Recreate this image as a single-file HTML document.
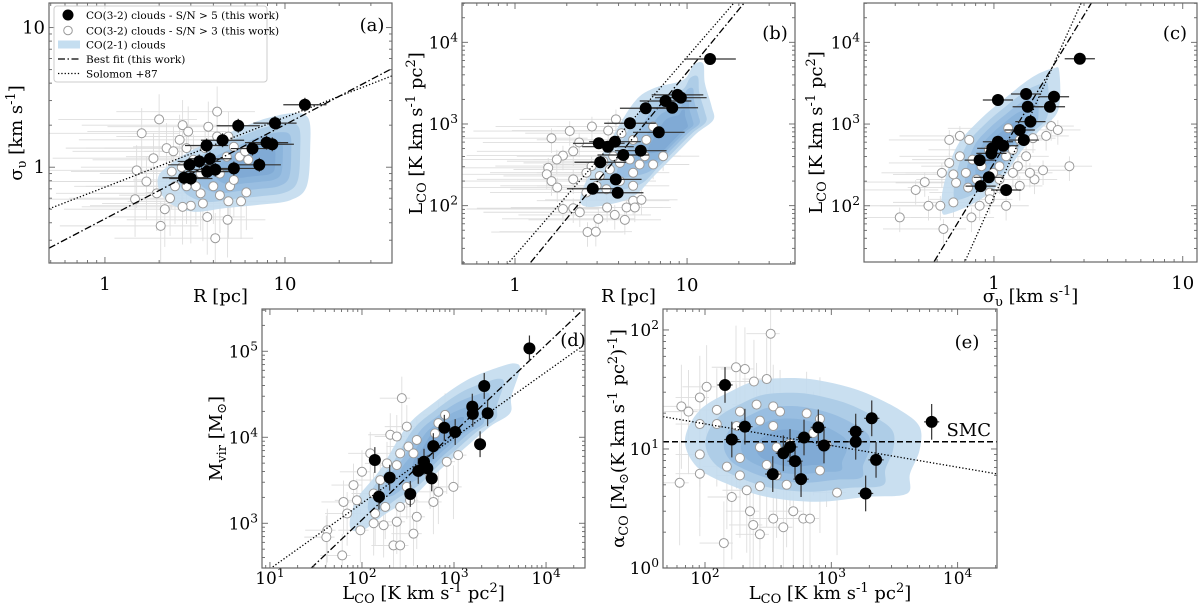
<!DOCTYPE html>
<html><head><meta charset="utf-8">
<style>
body{margin:0;background:#fff}
svg{display:block;font-family:"DejaVu Serif","Liberation Serif",serif}
</style></head>
<body>
<svg id="fig" width="1200" height="613" viewBox="0 0 1200 613" xmlns="http://www.w3.org/2000/svg"></svg>
<script>
// ---------------- DATA ----------------
// Panel (a): sigma_v vs R
const aOpenR=[2.0,1.6,2.7,2.9,2.2,2.6,3.75,4.2,1.86,1.5,1.7,1.94,2.3,1.47,2.15,2.67,2.84,3.0,3.4,3.5,3.7,4.0,4.35,4.85,4.95,5.7,6.1,5.2,5.6,6.25,6.0,4.75,5.2,3.4,3.1,2.4,2.35,2.45,2.7,4.8,4.1,2.04,3.2,4.35,3.6,4.85,2.84,4.2];
const aOpenS=[2.2,1.75,2.0,1.8,1.37,1.57,1.95,2.5,1.16,0.95,0.79,0.65,0.6,0.59,0.5,1.0,0.73,0.53,0.65,0.55,0.44,0.73,0.63,0.57,0.73,0.57,0.66,0.81,1.19,1.13,1.3,1.19,1.4,0.9,1.13,1.3,0.93,0.73,0.52,0.42,0.31,0.38,0.73,0.9,1.37,1.66,1.37,1.66];
const aBlackR=[12.9,5.5,8.8,4.5,3.67,6.6,7.9,8.5,3.83,3.34,2.95,7.2,4.1,3.7,5.2,2.75,3.0];
const aBlackS=[2.8,1.98,2.07,1.56,1.43,1.36,1.5,1.46,1.15,1.10,1.04,1.04,0.96,0.93,0.98,0.84,0.83];
const aContourX=[1.98,2.2,2.84,4.0,5.6,7.9,11.1,13.5,13.8,13.2,10.7,7.3,4.7,3.1,2.3,2.0];
const aContourY=[0.86,1.0,1.26,1.57,1.9,2.24,2.44,2.24,1.4,0.73,0.58,0.54,0.51,0.48,0.55,0.69];
const aPeak=[7.3,1.07];
const aFitBest=[-0.37,0.675];
const aFitSolomon=[-0.143,0.5];

// Panel (b): L_CO vs R
const bOpenR=[3.86,2.8,2.08,1.63,3.48,2.36,2.18,1.9,1.75,1.56,1.53,1.63,1.76,1.9,2.18,2.38,2.64,2.95,3.05,3.43,3.8,4.35,4.86,5.43,4.45,4.97,2.6,2.98,3.4,3.11,3.56,4.07,4.65,4.86,5.3,5.68,6.35,7.26,6.35,5.8,4.16,4.86,3.72,2.79,3.26,2.6,2.18,4.07,4.86];
const bOpenL=[1140,930,820,670,830,594,463,410,367,291,242,200,167,91,93,83,47.5,48,69,95,77,67,115,118,95,95,145,175,159,231,278,334,367,253,319,403,319,403,930,640,771,640,403,305,350,253,210,200,175];
const bBlackR=[13.6,8.8,9.2,7.5,8.2,5.75,4.66,6.85,3.81,3.07,3.47,5.38,4.26,3.13,3.85,2.83,3.95];
const bBlackL=[6250,2270,2100,1910,1580,1560,1020,791,607,580,527,471,417,340,210,161,144];
const bContourX=[2.39,2.61,3.41,4.87,6.37,9.5,10.9,12.4,12.7,13.9,14.2,11.4,8.7,6.37,4.87,3.41,2.61];
const bContourY=[117,206,527,1790,2730,3460,5270,5500,3150,1630,1120,769,438,226,129,102,97];
const bPeak=[8.7,845];
const bFitBest=[1.072,2.56];
const bFitSolomon=[1.39,2.43];

// Panel (c): L_CO vs sigma_v
const cOpenS=[2.51,2.01,2.18,1.89,1.82,1.64,1.55,1.37,1.48,1.26,1.16,1.07,0.99,1.07,0.95,0.95,1.16,0.84,0.76,0.61,0.54,0.45,0.385,0.317,0.52,0.43,0.53,0.58,0.66,0.74,0.66,0.58,0.77,0.71,0.63,0.61,0.86,0.81,0.73,1.34,1.26,1.19,1.61,1.37,0.94];
const cOpenL=[305,946,846,716,272,210,253,175,403,484,403,305,253,210,145,120,100,100,72,110,52,100,156,72,100,195,253,334,403,640,716,640,367,253,191,242,305,210,167,305,253,887,672,640,484];
const cBlackS=[2.85,1.48,2.08,1.05,1.51,1.98,1.56,1.37,1.44,1.05,1.12,0.98,0.97,0.84,0.94,0.85,1.16];
const cBlackL=[6300,2330,2160,1970,1630,1630,1070,845,637,607,543,505,438,362,223,174,156];
const cContourX=[0.53,0.54,0.635,0.84,1.17,1.61,2.06,2.22,2.19,1.75,1.37,1.03,0.78,0.585];
const cContourY=[84.5,171,527,1120,2160,3790,4800,4370,1480,845,438,171,107,80.7];
const cPeak=[1.12,580];
const cFitBest=[2.52,3.80];
const cFitSolomon=[2.106,5.14];

// Panel (d): M_vir vs L_CO
const dOpenL=[271,203,239,307,320,394,260,363,187,239,100,81,88,63,69,42,41,61,134,158,179,134,172,220,260,239,260,333,307,394,363,550,597,622,676,800,834,676,1110,985,123,139,96];
const dOpenM=[28500,10700,10200,13300,7800,9300,6500,6500,4970,4750,3970,2780,1850,1770,1300,830,690,423,2220,3180,1550,1000,949,553,553,1040,1550,1850,2650,1190,757,3480,1770,11100,14600,18200,5200,2320,6200,2650,6500,1300,830];
const dBlackL=[6600,2130,1580,1600,2320,785,1030,1920,596,138,472,513,409,573,200,335,153];
const dBlackM=[108000,39500,22700,18700,19000,12900,11500,8300,7900,5440,5200,4360,4060,3330,3390,2190,2040];
const dContourX=[74,87,157,306,596,1370,3160,4600,5200,4200,4060,2460,1370,705,361,185,103];
const dContourY=[912,1870,4170,13300,24800,46000,66000,72000,61000,29700,19000,13300,7800,4170,2040,1310,836];
const dPeak=[705,9300];
const dFitBest=[1.006,1.017];
const dFitSolomon=[1.707,0.763];

// Panel (e): alpha_CO vs L_CO
const eOpenL=[331,176,207,244,308,103,91,65,74,124,189,256,347,393,91,124,178,272,347,91,91,63,149,189,189,214,163,227,241,272,141,347,417,308,369,272,443,500,600,678,721,638,813,918,813,1110,369,471,272];
const eOpenA=[93,48.6,47,36.9,38.7,33.3,27.1,22.8,20.6,21.3,20.6,23.6,22.8,20.6,16.2,16.2,15.6,17.3,15.6,9.0,6.2,5.2,7.1,8.4,6.0,4.5,3.95,3.0,2.3,1.92,1.62,2.6,2.2,7.35,6.0,4.86,5.0,3.0,2.6,2.6,13.6,19.9,17.9,10.9,6.6,4.3,10.35,11.1,10.35];
const eBlackL=[144,207,163,789,608,2090,6230,1560,1560,875,471,417,516,2260,344,576,1870];
const eBlackA=[34.5,15.4,12.0,15.2,12.5,18.1,16.9,14.0,11.5,10.7,10.4,9.2,7.9,8.1,6.15,5.58,4.23];
const eContourX=[69.5,91,168,272,565,1040,1900,3500,5000,5000,4200,3950,1900,766,308,149,86];
const eContourY=[11.9,21.2,31.3,37.9,39.3,35.6,29.4,21.2,15.4,9.8,6.2,4.2,3.96,3.6,3.96,5.1,7.1];
const ePeak=[443,9.5];
const eFitSolomon=[1.575,-0.182];
const eSMC=[11.5];

// ---------------- RENDER ----------------
const NS='http://www.w3.org/2000/svg';
const svg=document.getElementById('fig');
function mk(tag,attrs,parent){const e=document.createElementNS(NS,tag);for(const k in attrs)e.setAttribute(k,attrs[k]);(parent||svg).appendChild(e);return e;}
const L10=Math.log10;

function rich(el,parts,fs){
  let shift=0;
  parts.forEach(p=>{
    const t=document.createElementNS(NS,'tspan');
    let target=0,size=fs;
    if(p[1]==='sub'){target=4;size=fs*0.72;}
    if(p[1]==='sup'){target=-7;size=fs*0.72;}
    t.setAttribute('dy',String(target-shift));
    shift=target;
    t.setAttribute('font-size',size);
    t.textContent=p[0];
    el.appendChild(t);
  });
}

const LCO=[['L','n'],['CO','sub'],[' [K km s','n'],['-1','sup'],[' pc','n'],['2','sup'],[']','n']];
const SIG=[['σ','n'],['υ','sub'],[' [km s','n'],['-1','sup'],[']','n']];

const panels=[
 {id:'a',box:{l:49,r:392,t:3,b:263},xd:[0.489,39.3],yd:[0.206,15.0],xfmt:'plain',yfmt:'plain',
  open:[aOpenR,aOpenS],black:[aBlackR,aBlackS],cont:[aContourX,aContourY],peak:aPeak,
  best:aFitBest,sol:aFitSolomon,gerr:[0.35,0.18],berr:[0.12,0.05],
  xl:[['R [pc]','n']],yl:SIG,ylx:22,xly:302,tag:'(a)',tagx:372,tagy:31},
 {id:'b',box:{l:462,r:795,t:3,b:264},xd:[0.492,42.4],yd:[19.3,30300],xfmt:'plain',yfmt:'sci',
  open:[bOpenR,bOpenL],black:[bBlackR,bBlackL],cont:[bContourX,bContourY],peak:bPeak,
  best:bFitBest,sol:bFitSolomon,gerr:[0.35,0.12],berr:[0.15,0.05],
  xl:[['R [pc]','n']],yl:LCO,ylx:422,xly:302,tag:'(b)',tagx:775,tagy:39},
 {id:'c',box:{l:864,r:1197,t:3,b:262},xd:[0.205,11.9],yd:[20.5,30300],xfmt:'plain',yfmt:'sci',
  open:[cOpenS,cOpenL],black:[cBlackS,cBlackL],cont:[cContourX,cContourY],peak:cPeak,
  best:cFitBest,sol:cFitSolomon,gerr:[0.2,0.12],berr:[0.08,0.05],
  xl:SIG,yl:LCO,ylx:822,xly:302,tag:'(c)',tagx:1175,tagy:39},
 {id:'d',box:{l:262,r:585,t:309,b:568},xd:[8.2,26500],yd:[302,310000],xfmt:'sci',yfmt:'sci',
  open:[dOpenL,dOpenM],black:[dBlackL,dBlackM],cont:[dContourX,dContourY],peak:dPeak,
  best:dFitBest,sol:dFitSolomon,gerr:[0.15,0.25],berr:[0.05,0.15],
  xl:LCO,yl:[['M','n'],['vir','sub'],[' [M','n'],['⊙','sub'],[']','n']],ylx:222,xly:599,tag:'(d)',tagx:573,tagy:346},
 {id:'e',box:{l:663,r:997,t:309,b:568},xd:[46.5,20500],yd:[1,150],xfmt:'sci',yfmt:'sci',
  open:[eOpenL,eOpenA],black:[eBlackL,eBlackA],cont:[eContourX,eContourY],peak:ePeak,
  best:null,sol:eFitSolomon,smc:eSMC,gerr:[0.12,0.35],berr:[0.06,0.15],
  xl:LCO,yl:[['α','n'],['CO','sub'],[' [M','n'],['⊙','sub'],['(K km s','n'],['-1','sup'],[' pc','n'],['2','sup'],[')','n'],['-1','sup'],[']','n']],ylx:624,xly:599,tag:'(e)',tagx:967,tagy:348}
];

const contourColors=['#c3dcee','#abcbe6','#97bde0','#89b2da','#7ea8d4'];
const contourScale=[1,0.8,0.62,0.45,0.3];

function smoothPath(pts){
  const n=pts.length;let d='M'+pts[0][0].toFixed(1)+','+pts[0][1].toFixed(1);
  for(let i=0;i<n;i++){
    const p0=pts[(i-1+n)%n],p1=pts[i],p2=pts[(i+1)%n],p3=pts[(i+2)%n];
    const c1=[p1[0]+(p2[0]-p0[0])/6,p1[1]+(p2[1]-p0[1])/6];
    const c2=[p2[0]-(p3[0]-p1[0])/6,p2[1]-(p3[1]-p1[1])/6];
    d+='C'+c1[0].toFixed(1)+','+c1[1].toFixed(1)+' '+c2[0].toFixed(1)+','+c2[1].toFixed(1)+' '+p2[0].toFixed(1)+','+p2[1].toFixed(1);
  }
  return d+'Z';
}

function tickLabel(el,v,fmt){
  const e=Math.round(L10(v));
  if(fmt==='plain'){el.textContent=String(Math.round(v));}
  else{rich(el,[['10','n'],[String(e),'sup']],17);}
}

panels.forEach(p=>{
  const B=p.box;
  const sx=v=>B.l+(L10(v)-L10(p.xd[0]))/(L10(p.xd[1])-L10(p.xd[0]))*(B.r-B.l);
  const sy=v=>B.b-(L10(v)-L10(p.yd[0]))/(L10(p.yd[1])-L10(p.yd[0]))*(B.b-B.t);
  const g=mk('g',{});
  
  
  const clip=mk('clipPath',{id:'clip-'+p.id},g);
  
  
  const cr=mk('rect',{x:B.l,y:B.t,width:B.r-B.l,height:B.b-B.t},clip);
  
  
  const pg=mk('g',{'clip-path':'url(#clip-'+p.id+')'},g);
  
  

  const ox=p.open[0],oy=p.open[1];
  for(let i=0;i<ox.length;i++){
    const x=ox[i],y=oy[i];
    const h=mk('line',{x1:sx(x/Math.pow(10,p.gerr[0]*1.6)),x2:sx(x*Math.pow(10,p.gerr[0]*0.6)),y1:sy(y),y2:sy(y),stroke:'#dedede','stroke-width':0.9},pg);
    
    
    const v=mk('line',{x1:sx(x),x2:sx(x),y1:sy(y/Math.pow(10,p.gerr[1]*1.5)),y2:sy(y*Math.pow(10,p.gerr[1])),stroke:'#dedede','stroke-width':0.9},pg);
    
    
  }
  const cx=sx(p.peak[0]),cy=sy(p.peak[1]);
  const basePts=p.cont[0].map((x,i)=>[sx(x),sy(p.cont[1][i])]);
  contourScale.forEach((s,k)=>{
    const pts=basePts.map(q=>[cx+(q[0]-cx)*s,cy+(q[1]-cy)*s]);
    const c=mk('path',{d:smoothPath(pts),fill:contourColors[k],'fill-opacity':0.9},pg);
    
    
  });
  for(let i=0;i<ox.length;i++){
    const m=mk('circle',{cx:sx(ox[i]),cy:sy(oy[i]),r:4.5,fill:'#fff',stroke:'#9a9a9a','stroke-width':1},pg);
    
    
  }
  const lx0=p.xd[0],lx1=p.xd[1];
  if(p.best){
    const ln=mk('line',{x1:sx(lx0),y1:sy(Math.pow(10,p.best[0]+p.best[1]*L10(lx0))),x2:sx(lx1),y2:sy(Math.pow(10,p.best[0]+p.best[1]*L10(lx1))),stroke:'#000','stroke-width':1.3,'stroke-dasharray':'7,2.5,1.5,2.5'},pg);
    
    
  }
  if(p.sol){
    const ln=mk('line',{x1:sx(lx0),y1:sy(Math.pow(10,p.sol[0]+p.sol[1]*L10(lx0))),x2:sx(lx1),y2:sy(Math.pow(10,p.sol[0]+p.sol[1]*L10(lx1))),stroke:'#000','stroke-width':1.3,'stroke-dasharray':'1.3,2'},pg);
    
    
  }
  if(p.smc){
    const ln=mk('line',{x1:B.l,x2:B.r,y1:sy(p.smc[0]),y2:sy(p.smc[0]),stroke:'#000','stroke-width':1.6,'stroke-dasharray':'6,3'},pg);
    
    
    const t=mk('text',{x:B.r-6,y:sy(p.smc[0])-6,'text-anchor':'end','font-size':18},g);
    
    
    t.textContent='SMC';
  }
  const bx=p.black[0],by=p.black[1];
  for(let i=0;i<bx.length;i++){
    const x=bx[i],y=by[i];
    const h=mk('line',{x1:sx(x/Math.pow(10,p.berr[0])),x2:sx(x*Math.pow(10,p.berr[0])),y1:sy(y),y2:sy(y),stroke:'#333','stroke-width':1.2},pg);
    
    
    const v=mk('line',{x1:sx(x),x2:sx(x),y1:sy(y/Math.pow(10,p.berr[1])),y2:sy(y*Math.pow(10,p.berr[1])),stroke:'#333','stroke-width':1.2},pg);
    
    
  }
  for(let i=0;i<bx.length;i++){
    const m=mk('circle',{cx:sx(bx[i]),cy:sy(by[i]),r:6,fill:'#000'},pg);
    
    
  }
  const tg=mk('g',{stroke:'#666','stroke-width':0.9},g);
  
  
  for(let d=Math.floor(L10(p.xd[0]));d<=Math.ceil(L10(p.xd[1]));d++){
    for(let m=1;m<10;m++){
      const v=m*Math.pow(10,d);
      if(v<p.xd[0]||v>p.xd[1])continue;
      const X=sx(v),len=m===1?6:3;
      const t1=mk('line',{x1:X,x2:X,y1:B.b,y2:B.b-len},tg);
      
      
      const t2=mk('line',{x1:X,x2:X,y1:B.t,y2:B.t+len},tg);
      
      
      if(m===1){
        const tl=mk('text',{x:X,y:B.b+(p.xfmt==='plain'?27:16),'text-anchor':'middle','font-size':p.xfmt==='plain'?18:17,fill:'#000',stroke:'none'},g);
        
        
        tickLabel(tl,v,p.xfmt);
      }
    }
  }
  for(let d=Math.floor(L10(p.yd[0]));d<=Math.ceil(L10(p.yd[1]));d++){
    for(let m=1;m<10;m++){
      const v=m*Math.pow(10,d);
      if(v<p.yd[0]*0.999||v>p.yd[1])continue;
      const Y=sy(v),len=m===1?6:3;
      const t1=mk('line',{x1:B.l,x2:B.l+len,y1:Y,y2:Y},tg);
      
      
      const t2=mk('line',{x1:B.r,x2:B.r-len,y1:Y,y2:Y},tg);
      
      
      if(m===1){
        const tl=mk('text',{x:B.l-4,y:Y+6,'text-anchor':'end','font-size':p.yfmt==='plain'?18:17,fill:'#000',stroke:'none'},g);
        
        
        tickLabel(tl,v,p.yfmt);
      }
    }
  }
  const fr=mk('rect',{x:B.l,y:B.t,width:B.r-B.l,height:B.b-B.t,fill:'none',stroke:'#666','stroke-width':1.2},g);
  
  
  const xl=mk('text',{x:(B.l+B.r)/2,y:p.xly,'text-anchor':'middle','font-size':18},g);
  
  
  rich(xl,p.xl,18);
  const yc=(B.t+B.b)/2;
  const yl=mk('text',{x:p.ylx,y:yc,'text-anchor':'middle','font-size':18,transform:'rotate(-90 '+p.ylx+' '+yc+')'},g);
  
  
  rich(yl,p.yl,18);
  const tg2=mk('text',{x:p.tagx,y:p.tagy,'text-anchor':'middle','font-size':18},g);
  
  
  tg2.textContent=p.tag;
});

const lg=mk('g',{});


const lb=mk('rect',{x:54,y:6,width:213,height:76,rx:3,fill:'#fff','fill-opacity':0.85,stroke:'#ccc','stroke-width':1},lg);


const legendLabels=['CO(3-2) clouds - S/N > 5 (this work)','CO(3-2) clouds - S/N > 3 (this work)','CO(2-1) clouds','Best fit (this work)','Solomon +87'];
const legendY=[15,30.5,44.5,59,73.5];
legendLabels.forEach((txt,i)=>{
  const y=legendY[i];
  let m;
  if(i===0){m=mk('circle',{cx:68,cy:y,r:5.5,fill:'#000'},lg);}
  else if(i===1){m=mk('circle',{cx:68,cy:y,r:4.3,fill:'#fff',stroke:'#9a9a9a','stroke-width':1},lg);}
  else if(i===2){m=mk('rect',{x:58,y:y-4,width:22,height:8,fill:'#c5def0'},lg);}
  else if(i===3){m=mk('line',{x1:58,x2:81,y1:y,y2:y,stroke:'#000','stroke-width':1.3,'stroke-dasharray':'7,2.5,1.5,2.5'},lg);}
  else{m=mk('line',{x1:58,x2:81,y1:y,y2:y,stroke:'#000','stroke-width':1.3,'stroke-dasharray':'1.3,2'},lg);}
  
  
  const t=mk('text',{x:86,y:y+4,'font-size':10.5},lg);
  
  
  t.textContent=txt;
});
</script>
</body></html>
